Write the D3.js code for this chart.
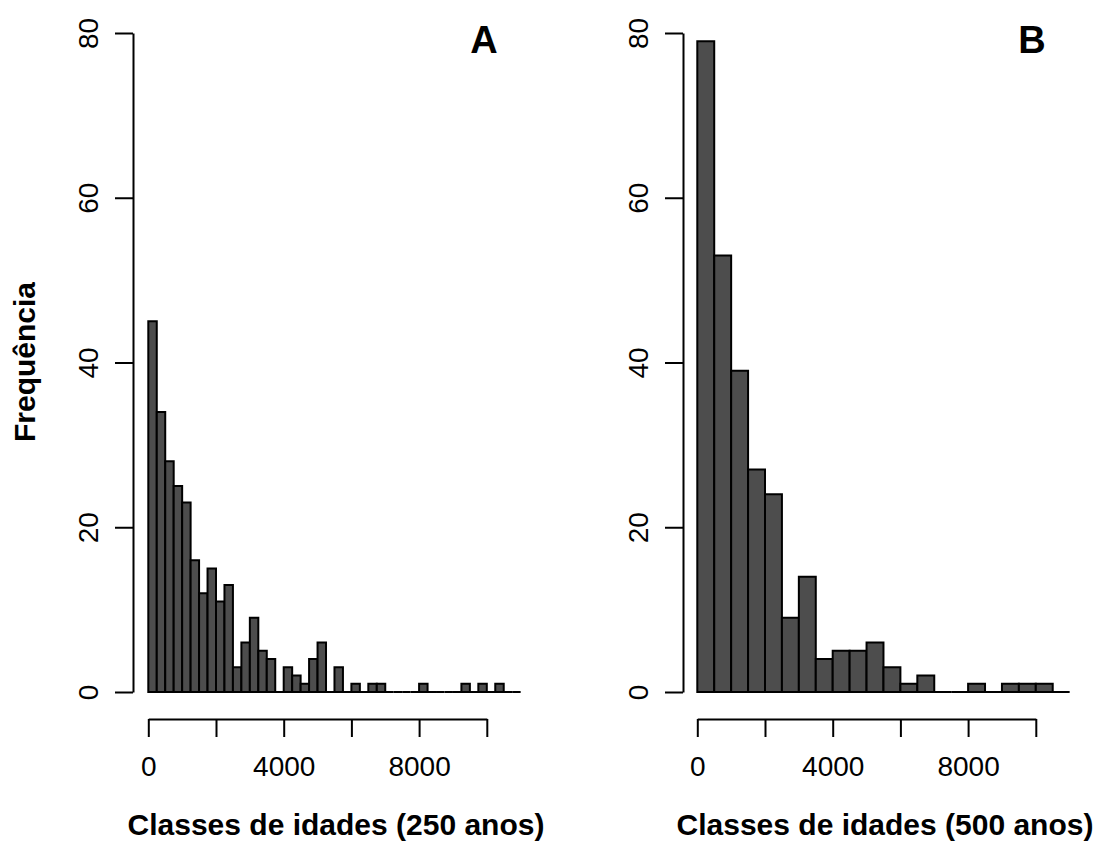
<!DOCTYPE html>
<html>
<head>
    <meta charset="utf-8">
    <title>Histogramas de idades</title>
    <script src="https://d3js.org/d3.v7.min.js"></script>
    <style>
        body { margin: 0; background: #fff; font-family: "Liberation Sans", Arial, sans-serif; }
    </style>
</head>
<body>
    <div id="chart"></div>
    <script>
        // counts per age class
        var countsA = [45, 34, 28, 25, 23, 16, 12, 15, 11, 13, 3, 6, 9, 5, 4, 0, 3, 2, 1, 4, 6, 0, 3, 0,
                       1, 0, 1, 1, 0, 0, 0, 0, 1, 0, 0, 0, 0, 1, 0, 1, 0, 1, 0, 0];
        var countsB = [79, 53, 39, 27, 24, 9, 14, 4, 5, 5, 6, 3, 1, 2, 0, 0, 1, 0, 1, 1, 1, 0];
        var binA = 250, binB = 500;
        var yTicks = [0, 20, 40, 60, 80];
        var xTicks = [0, 2000, 4000, 6000, 8000, 10000];
        var xLabels = {0: "0", 4000: "4000", 8000: "8000"};

        var width = 1099, height = 843;
        var svg = d3.select("#chart").append("svg")
            .attr("width", width).attr("height", height);

        var y = d3.scaleLinear().domain([0, 80]).range([692, 33]);
        var pxPer10000 = 338.5;

        function panel(counts, bin, x0, axisX, letter, letterX, title, titleX) {
            var x = d3.scaleLinear().domain([0, 10000]).range([x0, x0 + pxPer10000]);
            var g = svg.append("g");

            // bars as closed paths so empty classes still show as a line (like R's hist)
            g.selectAll("path.bar")
                .data(counts)
                .enter()
                .append("path")
                .attr("class", "bar")
                .attr("d", function(d, i) {
                    var l = x(i * bin), r = x((i + 1) * bin), t = y(d), b = y(0);
                    return "M" + l + "," + b + "V" + t + "H" + r + "V" + b + "Z";
                })
                .attr("fill", "#4d4d4d")
                .attr("stroke", "#000")
                .attr("stroke-width", 2);

            // y axis
            var ya = g.append("g")
                .attr("transform", "translate(" + axisX + ",0)")
                .call(d3.axisLeft(y).tickValues(yTicks).tickSize(18).tickSizeOuter(0));
            ya.select(".domain").attr("stroke-width", 2);
            ya.selectAll(".tick line").attr("stroke-width", 2);
            ya.selectAll(".tick text")
                .attr("x", null)
                .attr("transform", "translate(-45,0) rotate(-90)")
                .attr("dy", "0.35em")
                .attr("text-anchor", "middle")
                .style("font-size", "28px")
                .style("font-family", "'Liberation Sans', Arial, sans-serif")
                .attr("fill", "#000");

            // x axis
            var xa = g.append("g")
                .attr("transform", "translate(0,719)")
                .call(d3.axisBottom(x).tickValues(xTicks).tickSize(18).tickSizeOuter(0)
                    .tickFormat(function(d) { return xLabels[d] || ""; }));
            xa.select(".domain").attr("stroke-width", 2);
            xa.selectAll(".tick line").attr("stroke-width", 2);
            xa.selectAll(".tick text")
                .attr("y", 37)
                .style("font-size", "28px")
                .style("font-family", "'Liberation Sans', Arial, sans-serif")
                .attr("fill", "#000");

            g.append("text")
                .attr("x", letterX).attr("y", 53)
                .attr("text-anchor", "middle")
                .style("font-size", "38px").style("font-weight", "bold")
                .text(letter);

            g.append("text")
                .attr("x", titleX).attr("y", 835)
                .attr("text-anchor", "middle")
                .style("font-size", "30px").style("font-weight", "bold")
                .text(title);
        }

        panel(countsA, binA, 148.3, 133, "A", 484, "Classes de idades (250 anos)", 336);
        panel(countsB, binB, 697.3, 683, "B", 1032, "Classes de idades (500 anos)", 885);

        svg.append("text")
            .attr("transform", "translate(24,362) rotate(-90)")
            .attr("dy", "0.35em")
            .attr("text-anchor", "middle")
            .style("font-size", "30px").style("font-weight", "bold")
            .text("Frequência");
    </script>
</body>
</html>
